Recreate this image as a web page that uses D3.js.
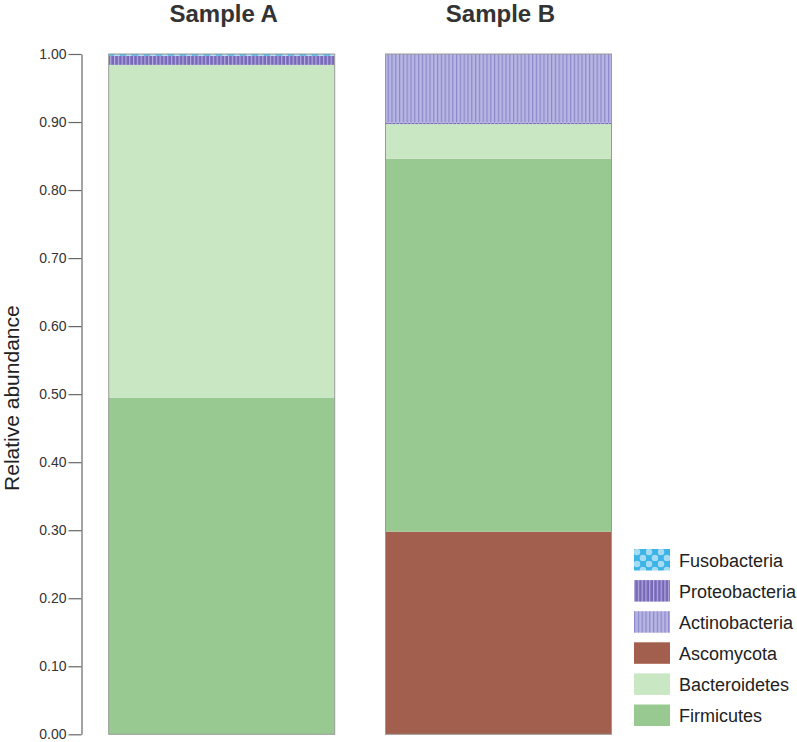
<!DOCTYPE html>
<html>
<head>
<meta charset="utf-8">
<script src="https://cdn.jsdelivr.net/npm/d3@7"></script>
<style>
  html, body { margin: 0; padding: 0; background: #fff; }
  svg { display: block; font-family: "Liberation Sans", Arial, sans-serif; }
</style>
</head>
<body>
<svg id="chart" width="797" height="742"></svg>
<script>
// ---- data ----
const samples = ["Sample A", "Sample B"];
const phyla = ["Firmicutes", "Bacteroidetes", "Ascomycota", "Actinobacteria", "Proteobacteria", "Fusobacteria"];
const sampleA = [0.495, 0.489, 0.000, 0.000, 0.0135, 0.0025];
const sampleB = [0.548, 0.051, 0.298, 0.101, 0.002, 0.000];
const stackOrderA = ["Firmicutes", "Bacteroidetes", "Proteobacteria", "Fusobacteria"];
const stackOrderB = ["Ascomycota", "Firmicutes", "Bacteroidetes", "Proteobacteria", "Actinobacteria"];
const legendOrder = ["Fusobacteria", "Proteobacteria", "Actinobacteria", "Ascomycota", "Bacteroidetes", "Firmicutes"];
const yTicks = [0, 0.1, 0.2, 0.3, 0.4, 0.5, 0.6, 0.7, 0.8, 0.9, 1.0];

const svg = d3.select("#chart");
const defs = svg.append("defs");

function stripePattern(id, bg, line, w, period) {
  const p = defs.append("pattern").attr("id", id).attr("patternUnits", "userSpaceOnUse")
    .attr("width", period).attr("height", 10);
  p.append("rect").attr("width", period).attr("height", 10).attr("fill", bg);
  p.append("rect").attr("x", 0).attr("width", w).attr("height", 10).attr("fill", line);
}
stripePattern("pat-actino", "#b7b5e3", "#8c88c9", 1.2, 3.8);
stripePattern("pat-proteo", "#7868b8", "#b5addf", 1.2, 3.8);
(function() {
  const p = defs.append("pattern").attr("id", "pat-fuso").attr("patternUnits", "userSpaceOnUse")
    .attr("width", 12).attr("height", 12);
  p.append("rect").attr("width", 12).attr("height", 12).attr("fill", "#3db4e6");
  p.append("circle").attr("cx", 3).attr("cy", 3).attr("r", 3.3).attr("fill", "#a6dbf4");
  p.append("circle").attr("cx", 9).attr("cy", 9).attr("r", 3.3).attr("fill", "#a6dbf4");
})();

const fills = {
  Firmicutes: "#98c991",
  Bacteroidetes: "#c9e7c3",
  Ascomycota: "#a35f4d",
  Actinobacteria: "url(#pat-actino)",
  Proteobacteria: "url(#pat-proteo)",
  Fusobacteria: "url(#pat-fuso)"
};

const y = d3.scaleLinear().domain([0, 1]).range([734.3, 54]);
const x = d3.scaleBand().domain(samples).range([108.7, 611.5]).paddingInner(0.1835).paddingOuter(0);

const valuesBy = {
  "Sample A": Object.fromEntries(phyla.map((p, i) => [p, sampleA[i]])),
  "Sample B": Object.fromEntries(phyla.map((p, i) => [p, sampleB[i]]))
};
const orders = { "Sample A": stackOrderA, "Sample B": stackOrderB };
const segs = [];
samples.forEach(s => {
  let acc = 0;
  orders[s].forEach(p => {
    const v = valuesBy[s][p];
    if (v > 0) { segs.push({ s, p, y0: acc, y1: acc + v }); acc += v; }
  });
});

svg.append("g").selectAll("rect").data(segs).join("rect")
  .attr("x", d => x(d.s))
  .attr("width", x.bandwidth())
  .attr("y", d => y(d.y1))
  .attr("height", d => y(d.y0) - y(d.y1))
  .attr("fill", d => fills[d.p]);

svg.append("g").selectAll("rect").data(samples).join("rect")
  .attr("x", d => x(d))
  .attr("width", x.bandwidth())
  .attr("y", y(1))
  .attr("height", y(0) - y(1))
  .attr("fill", "none")
  .attr("stroke", "#9a9a9a")
  .attr("stroke-width", 1);

const yAxis = d3.axisLeft(y).tickValues(yTicks).tickFormat(d3.format(".2f")).tickSize(13).tickSizeOuter(0).tickPadding(2);
const gy = svg.append("g").attr("transform", "translate(81.5,0)").call(yAxis);
gy.selectAll("path, line").attr("stroke", "#666").attr("stroke-width", 1.2);
gy.selectAll("text").attr("font-size", 14).attr("fill", "#333").attr("font-family", "Liberation Sans, Arial, sans-serif");

svg.append("text")
  .attr("transform", `translate(19,${(y(0) + y(1)) / 2 + 4}) rotate(-90)`)
  .attr("text-anchor", "middle")
  .attr("font-size", 21)
  .attr("fill", "#222")
  .text("Relative abundance");

svg.append("g").selectAll("text").data(samples).join("text")
  .attr("x", d => x(d) + x.bandwidth() / 2 + 2)
  .attr("y", 22)
  .attr("text-anchor", "middle")
  .attr("font-size", 24)
  .attr("font-weight", "bold")
  .attr("fill", "#333")
  .text(d => d);

const lg = svg.append("g").selectAll("g").data(legendOrder).join("g")
  .attr("transform", (d, i) => `translate(634,${549 + i * 31.1})`);
lg.append("rect").attr("width", 36).attr("height", 21.5).attr("fill", d => fills[d]);
lg.append("text").attr("x", 45).attr("y", 17.5).attr("font-size", 18).attr("fill", "#222").text(d => d);
</script>
</body>
</html>
